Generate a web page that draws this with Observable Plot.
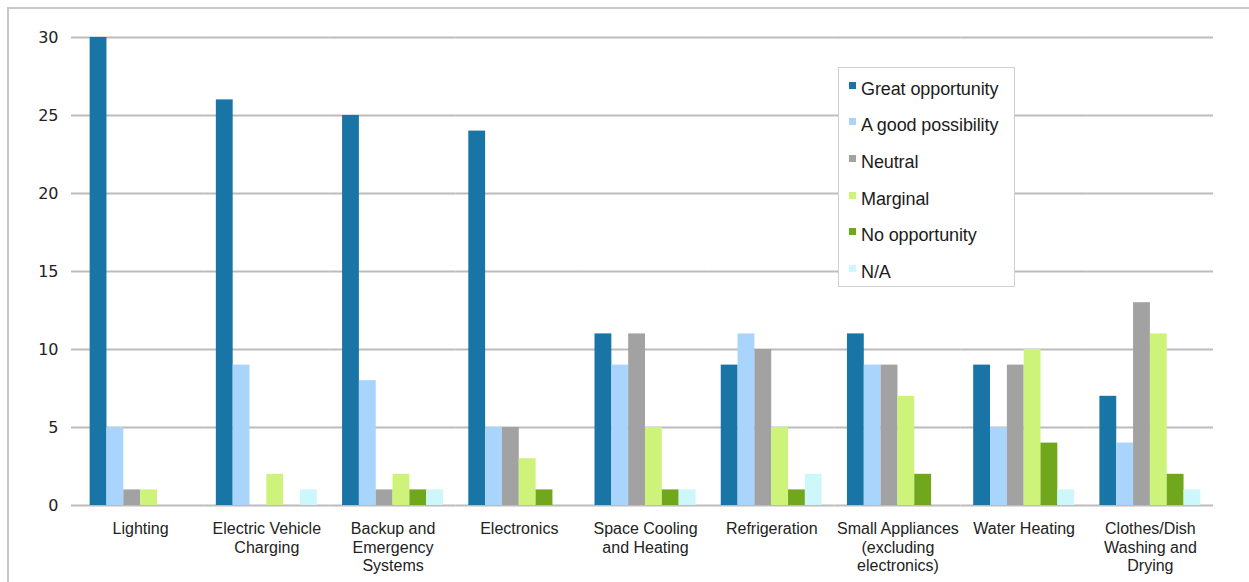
<!DOCTYPE html>
<html>
<head>
<meta charset="utf-8">
<script src="https://cdn.jsdelivr.net/npm/d3@7"></script>
<script src="https://cdn.jsdelivr.net/npm/@observablehq/plot@0.6"></script>
<style>
  html, body { margin: 0; padding: 0; background: #fff; }
  #wrap { position: relative; width: 1249px; height: 582px; overflow: hidden;
          font-family: "Liberation Sans", Arial, Helvetica, sans-serif; }
  #border { position: absolute; left: 7px; top: 7px; right: -4px; bottom: -4px;
            border-top: 2px solid #c8c8c8; border-left: 2px solid #c8c8c8; }
  #chart { position: absolute; left: 0; top: 0; }
  #legend { position: absolute; left: 838px; top: 67px; width: 177px; height: 220px;
            box-sizing: border-box; border: 1px solid #d0d0d0; background: #fff; padding-top: 3px; }
  #legend .row { height: 36.6px; display: flex; align-items: center; padding-left: 10px;
                 font-size: 18px; color: #1c1c1c; white-space: nowrap; letter-spacing: -0.1px; }
  #legend .sw { width: 7px; height: 7px; margin-right: 5px; position: relative; top: -4px; flex: none; }
</style>
</head>
<body>
<div id="wrap">
  <div id="border"></div>
  <div id="chart"></div>
  <div id="legend"></div>
</div>
<script>
// Survey responses per end use, one array per response option
const categories = [
  "Lighting",
  "Electric Vehicle Charging",
  "Backup and Emergency Systems",
  "Electronics",
  "Space Cooling and Heating",
  "Refrigeration",
  "Small Appliances (excluding electronics)",
  "Water Heating",
  "Clothes/Dish Washing and Drying"
];
const tickLabels = [
  "Lighting",
  "Electric Vehicle\nCharging",
  "Backup and\nEmergency\nSystems",
  "Electronics",
  "Space Cooling\nand Heating",
  "Refrigeration",
  "Small Appliances\n(excluding\nelectronics)",
  "Water Heating",
  "Clothes/Dish\nWashing and\nDrying"
];
const series = ["Great opportunity", "A good possibility", "Neutral", "Marginal", "No opportunity", "N/A"];
const colors = ["#1a75a7", "#a9d4fb", "#a2a2a2", "#cdf37b", "#71a71d", "#cef7fb"];

const greatOpportunity = [30, 26, 25, 24, 11, 9, 11, 9, 7];
const goodPossibility  = [5, 9, 8, 5, 9, 11, 9, 5, 4];
const neutral          = [1, 0, 1, 5, 11, 10, 9, 9, 13];
const marginal         = [1, 2, 2, 3, 5, 5, 7, 10, 11];
const noOpportunity    = [0, 0, 1, 1, 1, 1, 2, 4, 2];
const notApplicable    = [0, 1, 1, 0, 1, 2, 0, 1, 1];

const yTicks = [0, 5, 10, 15, 20, 25, 30];

const seriesValues = [greatOpportunity, goodPossibility, neutral, marginal, noOpportunity, notApplicable];
const rows = [];
categories.forEach((category, i) => {
  series.forEach((s, j) => rows.push({category, series: s, value: seriesValues[j][i]}));
});

const gridColor = "#bcbcbc";
const labelOf = new Map(categories.map((c, i) => [c, tickLabels[i]]));

// Axis lines and the small ticks between category groups, drawn per facet
function groupTicks(index, scales, values, dims) {
  const g = d3.create("svg:g")
    .attr("stroke", gridColor)
    .attr("stroke-width", 2)
    .attr("fill", "none");
  const y0 = scales.y(0);
  const xl = dims.marginLeft;
  const xr = dims.width - dims.marginRight;
  const i = index[0];
  g.append("line").attr("x1", xl).attr("x2", xl)
    .attr("y1", i === 0 ? scales.y(d3.max(yTicks)) : y0).attr("y2", y0 + 5);
  if (i === categories.length - 1) {
    g.append("line").attr("x1", xr).attr("x2", xr).attr("y1", y0).attr("y2", y0 + 5);
  }
  return g.node();
}

const chart = Plot.plot({
  width: 1249,
  height: 582,
  marginLeft: 77,
  marginRight: 36,
  marginTop: 37,
  marginBottom: 77,
  style: {background: "transparent", fontFamily: "'Liberation Sans', Arial, sans-serif"},
  fx: {domain: categories, paddingInner: 0, paddingOuter: 0, round: false},
  x: {domain: series, paddingInner: 0, paddingOuter: 0.75, round: false, axis: null},
  y: {domain: [0, 30], axis: null},
  color: {domain: series, range: colors},
  marks: [
    Plot.ruleY(yTicks, {stroke: gridColor, strokeWidth: 2}),
    Plot.barY(rows, {fx: "category", x: "series", y: "value", fill: "series"}),
    Plot.dot(categories, {fx: d => d, render: groupTicks}),
    Plot.axisY({
      ticks: yTicks, tickSize: 6, tickPadding: 13, stroke: gridColor, strokeWidth: 2,
      fill: "#222", fontSize: 16, fontFamily: "'DejaVu Sans', Verdana, sans-serif", label: null
    }),
    Plot.axisFx({
      anchor: "bottom", tickSize: 0, tickPadding: 15, label: null,
      tickFormat: d => labelOf.get(d), fontSize: 16, lineHeight: 1.17, fill: "#222"
    })
  ]
});
document.getElementById("chart").append(chart);

// Legend built from the same series and colours
const legend = d3.select("#legend");
series.forEach((s, j) => {
  const row = legend.append("div").attr("class", "row");
  row.append("div").attr("class", "sw").style("background", colors[j]);
  row.append("span").text(s);
});
</script>
</body>
</html>
